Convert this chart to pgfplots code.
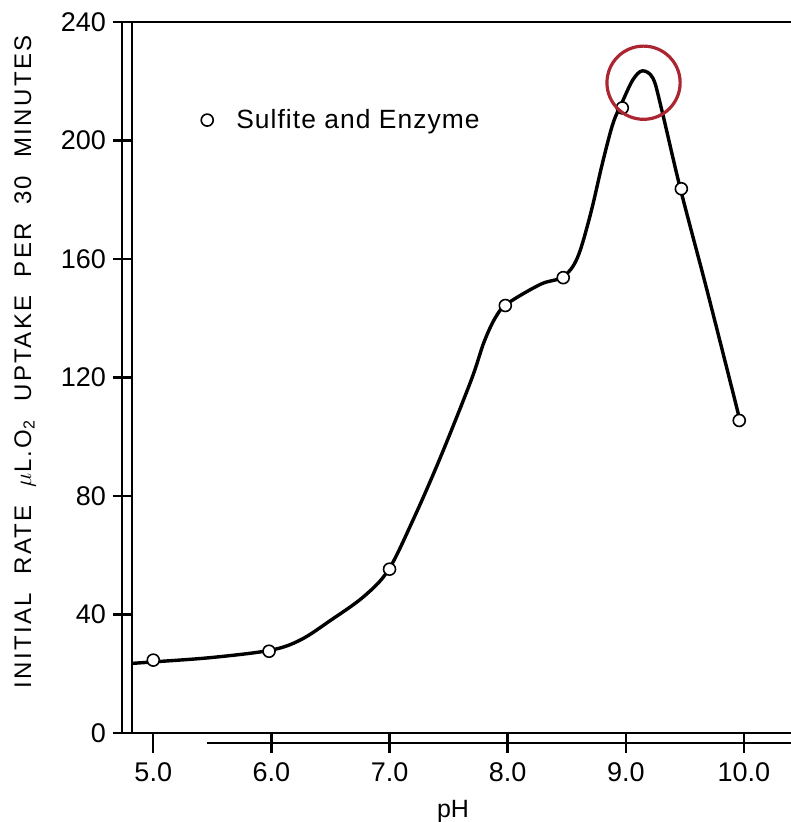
\documentclass[border=0pt]{standalone}
\usepackage{pgfplots}
\pgfplotsset{compat=1.18}
\usepackage{fontspec}
\setmainfont{Liberation Sans}
\definecolor{ringred}{RGB}{172,38,50}
\begin{document}
\begin{tikzpicture}
\begin{axis}[
  name=ax,
  scale only axis,
  width=345pt, height=355.5pt,
  xmin=4.82, xmax=10.6606,
  ymin=0, ymax=240,
  axis line style={line width=1pt},
  xtick pos=left, ytick pos=left,
  tick align=outside,
  tickwidth=9.5pt,
  major tick style={draw=black, line width=1.2pt},
  xtick={5,6,7,8,9,10},
  xticklabels={5.0,6.0,7.0,8.0,9.0,10.0},
  ytick={0,40,80,120,160,200,240},
  /pgf/number format/assume math mode=true,
  tick label style={font=\fontsize{13.5}{15}\selectfont},
  xticklabel style={yshift=-2pt},
  xlabel={pH},
  xlabel style={font=\fontsize{12.5}{14}\selectfont, at={(axis description cs:0.4652,-0.111)}, anchor=center},
  ylabel={\addfontfeature{LetterSpace=10}INITIAL\ \ RATE\ \ $\mu$L.O\textsubscript{2}\ \ UPTAKE\ \ PER\ \ 30\ \ MINUTES},
  ylabel style={font=\fontsize{12}{14}\selectfont, at={(axis description cs:-0.155,0.522)}, anchor=center},
  legend image code/.code={\path[draw=none] (0cm,0cm) -- (0.74cm,0cm); \draw[#1] plot coordinates {(0.3cm,0cm)};},
  legend style={at={(axis description cs:0.075,0.862)}, anchor=west, draw=none, fill=none,
    font=\fontsize{13.2}{15}\selectfont\addfontfeature{LetterSpace=4}},
  clip=false,
]
% fitted curve
\addplot[black, line width=1.7pt, smooth, tension=0.55, forget plot] coordinates {
  (4.82,23.5) (5.0,24) (5.5,25.5) (6.0,28) (6.25,31.5) (6.5,38) (6.78,46)
  (6.99,55) (7.2,72) (7.43,93) (7.69,119) (7.8,132) (7.9,140.5) (8.0,145)
  (8.28,151.5) (8.47,154) (8.59,160.4) (8.70,175) (8.80,192) (8.89,205.6)
  (8.97,213) (9.06,220.5) (9.14,223.5) (9.23,221) (9.30,211) (9.46,184)
  (9.69,149) (9.96,106.5)
};
% measured points
\addplot[only marks, mark=*, mark size=3pt, mark options={fill=white, draw=black, line width=0.8pt}] coordinates {
  (5.0,24.6) (5.98,27.6) (7.0,55.3) (7.98,144.3) (8.47,153.7) (8.97,211) (9.47,183.7) (9.96,105.5)
};
\addlegendentry{Sulfite and Enzyme}
% red highlight ring
\addplot[only marks, mark=o, mark size=18.3pt, mark options={draw=ringred, line width=1.6pt}, forget plot] coordinates {(9.15,219.5)};
\end{axis}
% tick marks as small filled bars outside the axis
\foreach \k in {0,...,5}{
  \fill[black] ([shift={(10.03pt+\k*59.07pt,0.5pt)}]ax.south west) rectangle ([shift={(11.23pt+\k*59.07pt,-10pt)}]ax.south west);
}
\foreach \k in {0,...,6}{
  \fill[black] ([shift={(0.5pt,\k*59.25pt-0.6pt)}]ax.south west) rectangle ([shift={(-9.5pt,\k*59.25pt+0.6pt)}]ax.south west);
}
% doubled axis lines of the original drawing
\draw[line width=0.9pt] ([xshift=-5pt]ax.north west) -- ([xshift=-5pt]ax.south west);
\draw[line width=0.9pt] ([shift={(37.5pt,-5pt)}]ax.south west) -- ([shift={(345pt,-5pt)}]ax.south west);
\pgfresetboundingbox
\useasboundingbox ([shift={(-66pt,-44.5pt)}]ax.south west) rectangle +(395pt,411pt);
\end{tikzpicture}
\end{document}
